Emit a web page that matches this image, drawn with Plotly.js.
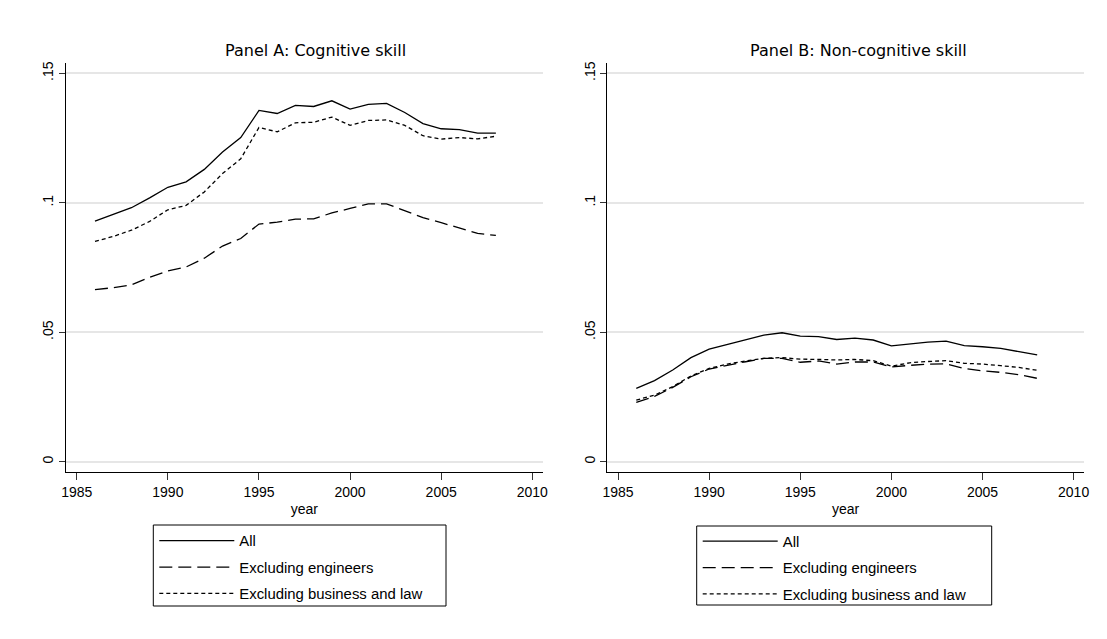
<!DOCTYPE html>
<html>
<head>
<meta charset="utf-8">
<script src="https://cdn.plot.ly/plotly-3.0.1.min.js"></script>
<style>html,body{margin:0;padding:0;background:#fff;}#chart{width:1107px;height:639px;}</style>
</head>
<body>
<div id="chart"></div>
<script>
// ---- Data ----
const years = [1986, 1987, 1988, 1989, 1990, 1991, 1992, 1993, 1994, 1995, 1996, 1997,
               1998, 1999, 2000, 2001, 2002, 2003, 2004, 2005, 2006, 2007, 2008];

// Panel A: Cognitive skill
const cogAll = [0.0929, 0.0955, 0.0981, 0.1019, 0.1060, 0.1081, 0.1129, 0.1196, 0.1252, 0.1357, 0.1345, 0.1376,
                0.1372, 0.1394, 0.1362, 0.1380, 0.1384, 0.1349, 0.1306, 0.1286, 0.1283, 0.1269, 0.1269];
const cogExEng = [0.0665, 0.0672, 0.0683, 0.0712, 0.0737, 0.0752, 0.0786, 0.0833, 0.0862, 0.0918, 0.0925, 0.0937,
                  0.0938, 0.0961, 0.0978, 0.0996, 0.0996, 0.0970, 0.0943, 0.0923, 0.0903, 0.0882, 0.0874];
const cogExBusLaw = [0.0851, 0.0870, 0.0894, 0.0928, 0.0973, 0.0990, 0.1042, 0.1113, 0.1170, 0.1291, 0.1274, 0.1309,
                     0.1311, 0.1331, 0.1299, 0.1318, 0.1320, 0.1299, 0.1259, 0.1246, 0.1252, 0.1247, 0.1257];

// Panel B: Non-cognitive skill
const ncAll = [0.0283, 0.0313, 0.0354, 0.0402, 0.0435, 0.0453, 0.0470, 0.0489, 0.0498, 0.0485, 0.0483, 0.0472,
               0.0477, 0.0470, 0.0447, 0.0454, 0.0462, 0.0466, 0.0448, 0.0444, 0.0438, 0.0425, 0.0413];
const ncExEng = [0.0229, 0.0252, 0.0287, 0.0328, 0.0358, 0.0373, 0.0386, 0.0399, 0.0399, 0.0384, 0.0389, 0.0377,
                 0.0385, 0.0385, 0.0366, 0.0372, 0.0377, 0.0378, 0.0360, 0.0351, 0.0345, 0.0336, 0.0322];
const ncExBusLaw = [0.0238, 0.0257, 0.0290, 0.0331, 0.0360, 0.0377, 0.0389, 0.0399, 0.0402, 0.0396, 0.0395, 0.0393,
                    0.0395, 0.0390, 0.0369, 0.0382, 0.0387, 0.0390, 0.0380, 0.0377, 0.0371, 0.0364, 0.0353];

const seriesNames = ["All", "Excluding engineers", "Excluding business and law"];
const panelTitles = ["Panel A: Cognitive skill", "Panel B: Non-cognitive skill"];
const xTickVals = [1985, 1990, 1995, 2000, 2005, 2010];
const yTickVals = [0, 0.05, 0.1, 0.15];
const yTickText = ["0", ".05", ".1", ".15"];
const xTitle = "year";

// ---- Styles ----
const FONT = "Arial, 'Liberation Sans', Helvetica, sans-serif";
const TITLE_FONT = "'DejaVu Sans', Arial, sans-serif";
const dashes = ["solid", "13px,6px", "4px,3px"];

function mk(y, i, axis, legend) {
  return {
    type: "scatter", mode: "lines", x: years, y: y,
    name: seriesNames[i],
    xaxis: axis[0], yaxis: axis[1],
    legend: legend,
    legendgroup: legend + "_" + i,
    line: {color: "#000000", width: 1.3, dash: dashes[i]},
    hoverinfo: "x+y+name"
  };
}

const traces = [
  mk(cogAll, 0, ["x", "y"], "legend"),
  mk(cogExEng, 1, ["x", "y"], "legend"),
  mk(cogExBusLaw, 2, ["x", "y"], "legend"),
  mk(ncAll, 0, ["x2", "y2"], "legend2"),
  mk(ncExEng, 1, ["x2", "y2"], "legend2"),
  mk(ncExBusLaw, 2, ["x2", "y2"], "legend2")
];

const W = 1107, H = 639;
const xAxisBase = {
  range: [1984.41, 2010.57], tickvals: xTickVals, ticks: "outside", ticklen: 7, tickwidth: 1,
  tickcolor: "#333", showline: true, linecolor: "#000", linewidth: 1, showgrid: false, zeroline: false,
  tickfont: {family: FONT, size: 14, color: "#000"},
  title: {text: xTitle, font: {family: FONT, size: 14, color: "#000"}, standoff: 5},
  automargin: false, fixedrange: true
};
const yAxisBase = {
  range: [-0.0041, 0.154], tickvals: yTickVals, ticktext: yTickText, tickangle: -90,
  ticks: "outside", ticklen: 6, tickwidth: 1, tickcolor: "#333",
  showline: true, linecolor: "#000", linewidth: 1,
  showgrid: true, gridcolor: "#e6e6e6", gridwidth: 1.5,
  zeroline: true, zerolinecolor: "#e6e6e6", zerolinewidth: 1.5,
  tickfont: {family: FONT, size: 14, color: "#000"},
  automargin: false, fixedrange: true
};

const plotTop = 63, plotBottom = 472.3;
const yDom = [1 - plotBottom / H, 1 - plotTop / H];

const legendBase = {
  bgcolor: "rgba(0,0,0,0)", borderwidth: 0,
  font: {family: FONT, size: 14.9, color: "#000"},
  xanchor: "left", yanchor: "top", traceorder: "grouped", tracegroupgap: 4,
  itemwidth: 75,
  itemclick: false, itemdoubleclick: false
};

// legend frames (decoration, paper coordinates)
function frame(x0, x1, y0, y1) {
  return {type: "rect", xref: "paper", yref: "paper",
          x0: x0 / W, x1: x1 / W, y0: 1 - y1 / H, y1: 1 - y0 / H,
          line: {color: "#000", width: 1}, fillcolor: "rgba(0,0,0,0)", layer: "above"};
}

const layout = {
  width: W, height: H,
  margin: {l: 0, r: 0, t: 0, b: 0},
  paper_bgcolor: "#ffffff", plot_bgcolor: "#ffffff",
  font: {family: FONT, color: "#000"},
  xaxis: Object.assign({}, xAxisBase, {domain: [66 / W, 542.7 / W], anchor: "y"}),
  yaxis: Object.assign({}, yAxisBase, {domain: yDom, anchor: "x"}),
  xaxis2: Object.assign({}, xAxisBase, {domain: [607.3 / W, 1084 / W], anchor: "y2"}),
  yaxis2: Object.assign({}, yAxisBase, {domain: yDom, anchor: "x2"}),
  legend: Object.assign({}, legendBase, {x: 154.3 / W, y: 1 - 524.5 / H}),
  legend2: Object.assign({}, legendBase, {x: 697.7 / W, y: 1 - 525 / H}),
  showlegend: true,
  shapes: [frame(153.3, 446, 525, 606), frame(696.7, 991.7, 526, 605)],
  annotations: [
    {text: panelTitles[0], xref: "paper", yref: "paper", x: 315.8 / W, y: 1 - 50.5 / H,
     xanchor: "center", yanchor: "middle", showarrow: false,
     font: {family: TITLE_FONT, size: 16, color: "#000"}},
    {text: panelTitles[1], xref: "paper", yref: "paper", x: 858.3 / W, y: 1 - 50.5 / H,
     xanchor: "center", yanchor: "middle", showarrow: false,
     font: {family: TITLE_FONT, size: 16, color: "#000"}}
  ]
};

Plotly.newPlot("chart", traces, layout, {displayModeBar: false, responsive: false});
</script>
</body>
</html>
